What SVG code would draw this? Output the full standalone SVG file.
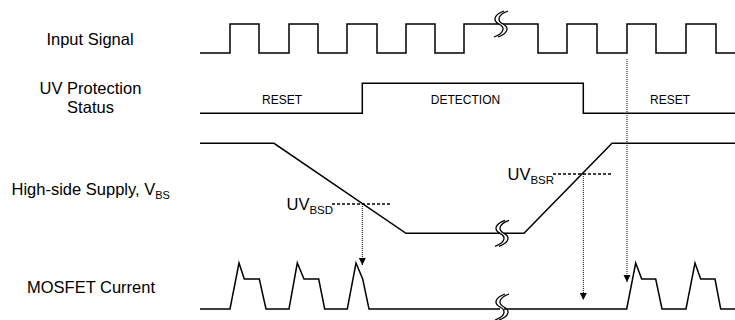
<svg xmlns="http://www.w3.org/2000/svg" xmlns:xlink="http://www.w3.org/1999/xlink" width="735" height="320" viewBox="0 0 735 320">
<style>
.w{fill:none;stroke:#000;stroke-width:1.5;stroke-linejoin:miter}
.b{fill:none;stroke:#000;stroke-width:1.3}
.dot{fill:none;stroke:#000;stroke-width:1;stroke-dasharray:1 1}
.dash{fill:none;stroke:#000;stroke-width:1.3;stroke-dasharray:3 2}
.lbl{font-family:"Liberation Sans",Arial,sans-serif;font-size:16.5px;fill:#000}
.st{font-family:"Liberation Sans",Arial,sans-serif;font-size:12px;fill:#000;text-anchor:middle}
.uv{font-family:"Liberation Sans",Arial,sans-serif;font-size:16.5px;fill:#000}
</style>
<defs>
<g id="brk">
<path class="b" d="M 5 -13 C -6 -9, -6 -3, 0 0 S 6 9, -5 13"/>
<path class="b" d="M 9 -13 C -2 -9, -2 -3, 4 0 S 10 9, -1 13"/>
</g>
<marker id="ah" markerWidth="8" markerHeight="8" refX="7" refY="4" orient="auto" markerUnits="userSpaceOnUse">
<path d="M0,0.5 L7,4 L0,7.5 Z" fill="#000"/>
</marker>
</defs>

<g id="labels">
<text class="lbl" x="90" y="44.5" text-anchor="middle">Input Signal</text>
<text class="lbl" x="90.5" y="94" text-anchor="middle">UV Protection</text>
<text class="lbl" x="90.5" y="113" text-anchor="middle">Status</text>
<text class="lbl" x="11.5" y="195">High-side Supply, V<tspan font-size="11" dy="4">BS</tspan></text>
<text class="lbl" x="91" y="292.5" text-anchor="middle">MOSFET Current</text>
</g>

<g id="input-signal">
<path class="w" d="M200,53 H230 V24 H259 V53 H289 V24 H318 V53 H347 V24 H377 V53 H406 V24 H435 V53 H464 V24 H499"/>
<path class="w" d="M503,24 H538 V53 H567 V24 H597 V53 H627 V24 H656 V53 H686 V24 H716 V53 H735"/>
<use xlink:href="#brk" href="#brk" x="499" y="24"/>
</g>

<g id="uv-status">
<path class="w" d="M200,113.3 H362.3 V83.3 H583.3 V113.3 H735"/>
<text class="st" x="282" y="103.5">RESET</text>
<text class="st" x="465.5" y="103.5">DETECTION</text>
<text class="st" x="670" y="103.5">RESET</text>
</g>

<g id="high-side">
<path class="w" d="M200,143.3 H274 L406,233.3 H500"/>
<path class="w" d="M504,233.3 H524 L612,143.3 H735"/>
<use xlink:href="#brk" href="#brk" x="500" y="233.3"/>
<text class="uv" x="286.5" y="210">UV<tspan font-size="11.5" dy="4">BSD</tspan></text>
<text class="uv" x="507.5" y="180">UV<tspan font-size="11.5" dy="4">BSR</tspan></text>
</g>

<g id="mosfet-current">
<path class="w" d="M200,309 H230 L239,263 L244.3,279 H259.3 L266,309 H289 L297.3,263 L304,279 H318.7 L324.7,309 H347.3 L356,263 L362.7,279 L369,309 H500"/>
<path class="w" d="M504,309 H626.7 L635.7,263 L641.7,279 H655.7 L662,309 H686 L695,263 L700.7,279 H715 L720.7,309 H735"/>
<use xlink:href="#brk" href="#brk" x="500" y="307"/>
</g>

<g id="connectors">
<line class="dash" x1="332" y1="204" x2="390" y2="204"/>
<line class="dash" x1="553" y1="174" x2="611" y2="174"/>
<line class="dot" x1="362.3" y1="204" x2="362.3" y2="265" marker-end="url(#ah)"/>
<line class="dot" x1="583.3" y1="174" x2="583.3" y2="300" marker-end="url(#ah)"/>
<line class="dot" x1="627" y1="59" x2="627" y2="282" marker-end="url(#ah)"/>
</g>
</svg>
